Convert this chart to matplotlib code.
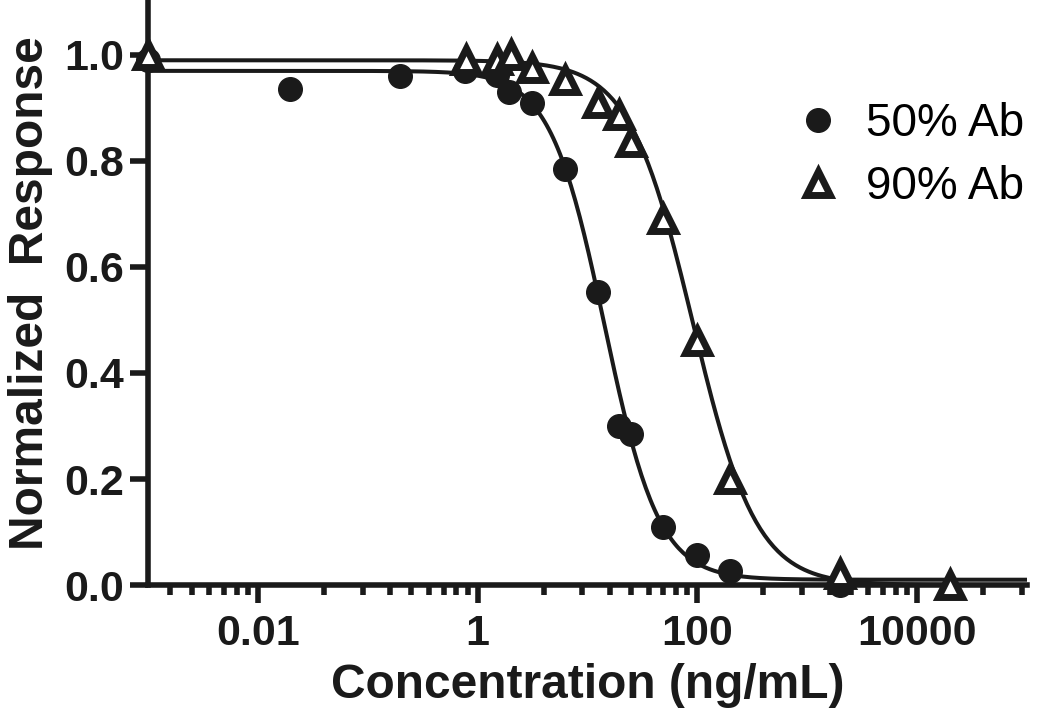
import numpy as np
import matplotlib
matplotlib.use("Agg")
from matplotlib import pyplot as plt
from matplotlib.ticker import FixedLocator, NullFormatter

plt.rcParams['font.family'] = ['Liberation Sans', 'DejaVu Sans']

# data
conc_50 = [0.001, 0.0195, 0.195, 0.76, 1.49, 1.95, 3.1, 6.2, 12.4, 19.5, 25, 49, 100, 199, 2000]
resp_50 = [0.99, 0.935, 0.96, 0.97, 0.963, 0.93, 0.91, 0.784, 0.553, 0.30, 0.285, 0.109, 0.056, 0.026, 0.0]
conc_90 = [0.001, 0.78, 1.49, 2.0, 3.1, 6.2, 12.4, 19.5, 24.7, 49, 100, 199, 2000, 20000]
resp_90 = [1.0, 0.99, 0.99, 1.0, 0.975, 0.953, 0.91, 0.887, 0.835, 0.69, 0.46, 0.20, 0.02, 0.0]

# 4-parameter logistic fit parameters (top, bottom, ec50, hill)
fit_50 = [0.97, 0.01, 14.3, 1.75]
fit_90 = [0.99, 0.0, 91.0, 1.5]

labels = ["50% Ab", "90% Ab"]
x_tick_vals = [0.01, 1, 100, 10000]
x_tick_labels = ["0.01", "1", "100", "10000"]
y_tick_vals = [0.0, 0.2, 0.4, 0.6, 0.8, 1.0]


def logistic(x, p):
    top, bottom, ec50, hill = p
    return bottom + (top - bottom) / (1 + (x / ec50) ** hill)


ink = '#1a1a1a'
fig = plt.figure(figsize=(10.5, 7.27), dpi=100)
ax = fig.add_axes([0.141, 0.1953, 0.837, 0.802])

xs = np.logspace(-3, 5, 400)
ax.plot(xs, logistic(xs, fit_50), color=ink, lw=2.9, zorder=2)
ax.plot(xs, logistic(xs, fit_90), color=ink, lw=2.9, zorder=2)

ax.plot(conc_50, resp_50, 'o', color=ink, ms=17, ls='none', clip_on=False, zorder=3, label=labels[0])
ax.plot(conc_90, resp_90, '^', mfc='white', mec=ink, mew=5, ms=17, ls='none', clip_on=False, zorder=4, label=labels[1])

ax.set_xscale('log')
ax.set_xlim(0.001, 1e5)
ax.set_ylim(0, 1.1)

# prism style minor ticks: major * k^2
minors = [m * k ** 2 for m in [1e-4, 1e-2, 1, 1e2, 1e4] for k in range(2, 10)]
minors = [v for v in minors if 0.001 <= v <= 1e5]
ax.xaxis.set_major_locator(FixedLocator(x_tick_vals))
ax.xaxis.set_minor_locator(FixedLocator(minors))
ax.xaxis.set_minor_formatter(NullFormatter())
ax.set_xticklabels(x_tick_labels)
ax.set_yticks(y_tick_vals)
ax.set_yticklabels([f"{v:.1f}" for v in y_tick_vals])

for s in ['top', 'right']:
    ax.spines[s].set_visible(False)
for s in ['left', 'bottom']:
    ax.spines[s].set_linewidth(4)
    ax.spines[s].set_color(ink)

ax.tick_params(axis='both', which='major', width=4, length=13, color=ink,
               labelsize=31, labelcolor=ink, pad=4)
ax.tick_params(axis='x', which='major', pad=8)
ax.tick_params(axis='x', which='minor', width=4, length=7, color=ink)
ax.tick_params(axis='y', which='minor', left=False)
for t in ax.get_xticklabels() + ax.get_yticklabels():
    t.set_fontweight('bold')

ax.set_xlabel("Concentration (ng/mL)", fontsize=34.5, fontweight='bold', color=ink, labelpad=6)
ax.set_ylabel("Normalized  Response", fontsize=34.5, fontweight='bold', color=ink, labelpad=8)

ax.legend(loc='upper left', bbox_to_anchor=(0.74, 0.885), bbox_transform=fig.transFigure,
          frameon=False, fontsize=33, handletextpad=0.55, labelspacing=0.42,
          handlelength=1.0, borderaxespad=0)

fig.savefig("out.png", dpi=100)
